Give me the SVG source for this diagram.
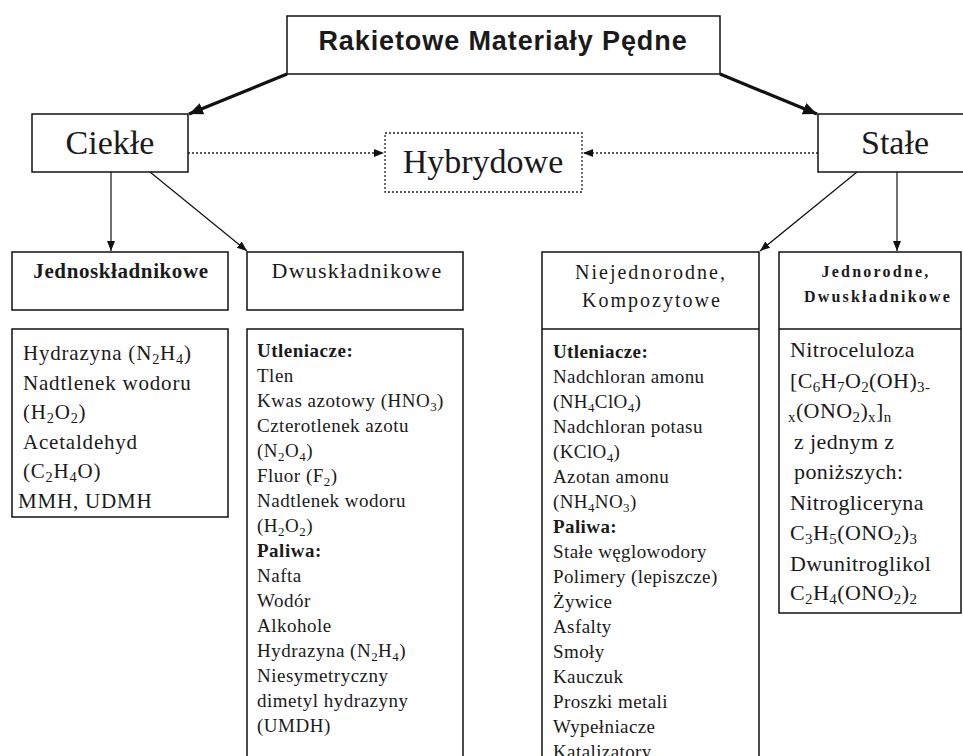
<svg xmlns="http://www.w3.org/2000/svg" width="963" height="756" viewBox="0 0 963 756">
<style>
.box{fill:#fff;stroke:#111;stroke-width:1.5}
.dbox{fill:#fff;stroke:#222;stroke-width:1.3;stroke-dasharray:2 2}
.ln{stroke:#111;stroke-width:1.2;fill:none}
.thick{stroke:#111;stroke-width:3.2;fill:none}
.dot{stroke:#222;stroke-width:1.3;stroke-dasharray:2 2;fill:none}
text{fill:#1a1a1a;font-family:"Liberation Serif","Times New Roman",serif}
.title{font-family:"Liberation Sans",Arial,sans-serif;font-weight:bold;font-size:27px;letter-spacing:0.9px}
.big{font-size:34px}
.hb{font-weight:bold;font-size:21px;letter-spacing:0.6px}
.hr{font-size:22px;letter-spacing:1.2px}
.hn{font-size:20px;letter-spacing:2px}
.hj{font-weight:bold;font-size:16px;letter-spacing:2.2px}
.l21{font-size:21px;letter-spacing:0.8px}
.l19{font-size:19px;letter-spacing:0.5px}
.n19{font-size:19px;letter-spacing:0.4px}
.l22{font-size:22px;letter-spacing:0.4px}
.b{font-weight:bold}
.s{font-size:68%;baseline-shift:-3.5px}
</style>
<defs>
<marker id="ah" markerUnits="userSpaceOnUse" markerWidth="12" markerHeight="10" refX="10" refY="4" orient="auto">
<path d="M0,0 L10,4 L0,8 Z" fill="#111"/>
</marker>
<marker id="ahb" markerUnits="userSpaceOnUse" markerWidth="16" markerHeight="14" refX="14" refY="6" orient="auto">
<path d="M0,0 L14,6 L0,12 Z" fill="#111"/>
</marker>
</defs>

<g id="connectors">
<line class="thick" x1="287" y1="74" x2="189" y2="114" marker-end="url(#ahb)"/>
<line class="thick" x1="720" y1="74" x2="817" y2="114" marker-end="url(#ahb)"/>
<line class="dot" x1="188" y1="153" x2="384" y2="153" marker-end="url(#ah)"/>
<line class="dot" x1="818" y1="153" x2="583" y2="153" marker-end="url(#ah)"/>
<line class="ln" x1="111" y1="172" x2="111" y2="251" marker-end="url(#ah)"/>
<line class="ln" x1="150" y1="172" x2="247" y2="251" marker-end="url(#ah)"/>
<line class="ln" x1="857" y1="172" x2="760" y2="251" marker-end="url(#ah)"/>
<line class="ln" x1="897" y1="172" x2="897" y2="251" marker-end="url(#ah)"/>
</g>

<g id="title">
<rect class="box" x="287" y="16" width="433" height="58"/>
<text class="title" x="503" y="50" text-anchor="middle">Rakietowe Materiały Pędne</text>
</g>

<g id="ciekle">
<rect class="box" x="32" y="114" width="156" height="58"/>
<text class="big" x="110" y="154" text-anchor="middle">Ciekłe</text>
</g>

<g id="hybrydowe">
<rect class="dbox" x="385" y="133" width="197" height="59"/>
<text class="big" x="483" y="173" text-anchor="middle">Hybrydowe</text>
</g>

<g id="stale">
<rect class="box" x="818" y="114" width="150" height="58"/>
<text class="big" x="895" y="154" text-anchor="middle">Stałe</text>
</g>

<g id="jednoskladnikowe">
<rect class="box" x="12" y="252" width="216" height="58"/>
<text class="hb" x="121" y="278" text-anchor="middle">Jednoskładnikowe</text>
</g>

<g id="jednoskladnikowe-lista">
<rect class="box" x="12" y="329" width="216" height="188"/>
<text class="l21">
<tspan x="23" y="360">Hydrazyna (N<tspan class="s">2</tspan>H<tspan class="s">4</tspan>)</tspan>
<tspan x="23" y="389.5">Nadtlenek wodoru</tspan>
<tspan x="23" y="419">(H<tspan class="s">2</tspan>O<tspan class="s">2</tspan>)</tspan>
<tspan x="23" y="448.5">Acetaldehyd</tspan>
<tspan x="23" y="478">(C<tspan class="s">2</tspan>H<tspan class="s">4</tspan>O)</tspan>
<tspan x="18" y="507.5">MMH, UDMH</tspan>
</text>
</g>

<g id="dwuskladnikowe">
<rect class="box" x="247" y="252" width="216" height="58"/>
<text class="hr" x="357" y="278" text-anchor="middle">Dwuskładnikowe</text>
</g>

<g id="dwuskladnikowe-lista">
<rect class="box" x="247" y="329" width="216" height="440"/>
<text class="l19">
<tspan x="257" y="357" class="b">Utleniacze:</tspan>
<tspan x="257" y="382">Tlen</tspan>
<tspan x="257" y="407">Kwas azotowy (HNO<tspan class="s">3</tspan>)</tspan>
<tspan x="257" y="432">Czterotlenek azotu</tspan>
<tspan x="257" y="457">(N<tspan class="s">2</tspan>O<tspan class="s">4</tspan>)</tspan>
<tspan x="257" y="482">Fluor (F<tspan class="s">2</tspan>)</tspan>
<tspan x="257" y="507">Nadtlenek wodoru</tspan>
<tspan x="257" y="532">(H<tspan class="s">2</tspan>O<tspan class="s">2</tspan>)</tspan>
<tspan x="257" y="557" class="b">Paliwa:</tspan>
<tspan x="257" y="582">Nafta</tspan>
<tspan x="257" y="607">Wodór</tspan>
<tspan x="257" y="632">Alkohole</tspan>
<tspan x="257" y="657">Hydrazyna (N<tspan class="s">2</tspan>H<tspan class="s">4</tspan>)</tspan>
<tspan x="257" y="682">Niesymetryczny</tspan>
<tspan x="257" y="707">dimetyl hydrazyny</tspan>
<tspan x="257" y="732">(UMDH)</tspan>
</text>
</g>

<g id="niejednorodne">
<rect class="box" x="542" y="252" width="217" height="520"/>
<line class="ln" x1="542" y1="329" x2="759" y2="329" style="stroke-width:1.5"/>
<text class="hn" x="651" y="279" text-anchor="middle">Niejednorodne,</text>
<text class="hn" x="652" y="307" text-anchor="middle">Kompozytowe</text>
<text class="n19">
<tspan x="553" y="358" class="b">Utleniacze:</tspan>
<tspan x="553" y="383">Nadchloran amonu</tspan>
<tspan x="553" y="408">(NH<tspan class="s">4</tspan>ClO<tspan class="s">4</tspan>)</tspan>
<tspan x="553" y="433">Nadchloran potasu</tspan>
<tspan x="553" y="458">(KClO<tspan class="s">4</tspan>)</tspan>
<tspan x="553" y="483">Azotan amonu</tspan>
<tspan x="553" y="508">(NH<tspan class="s">4</tspan>NO<tspan class="s">3</tspan>)</tspan>
<tspan x="553" y="533" class="b">Paliwa:</tspan>
<tspan x="553" y="558">Stałe węglowodory</tspan>
<tspan x="553" y="583">Polimery (lepiszcze)</tspan>
<tspan x="553" y="608">Żywice</tspan>
<tspan x="553" y="633">Asfalty</tspan>
<tspan x="553" y="658">Smoły</tspan>
<tspan x="553" y="683">Kauczuk</tspan>
<tspan x="553" y="708">Proszki metali</tspan>
<tspan x="553" y="733">Wypełniacze</tspan>
<tspan x="553" y="758">Katalizatory</tspan>
</text>
</g>

<g id="jednorodne">
<rect class="box" x="779" y="252" width="182" height="361"/>
<line class="ln" x1="779" y1="329" x2="961" y2="329" style="stroke-width:1.5"/>
<text class="hj" x="876" y="277" text-anchor="middle">Jednorodne,</text>
<text class="hj" x="878" y="302" text-anchor="middle">Dwuskładnikowe</text>
<text class="l22">
<tspan x="790" y="357">Nitroceluloza</tspan>
<tspan x="790" y="387.5">[C<tspan class="s">6</tspan>H<tspan class="s">7</tspan>O<tspan class="s">2</tspan>(OH)<tspan class="s">3-</tspan></tspan>
<tspan x="788" y="418"><tspan class="s">x</tspan>(ONO<tspan class="s">2</tspan>)<tspan class="s">x</tspan>]<tspan class="s">n</tspan></tspan>
<tspan x="794" y="448.5">z jednym z</tspan>
<tspan x="794" y="479">poniższych:</tspan>
<tspan x="790" y="509.5">Nitrogliceryna</tspan>
<tspan x="790" y="540">C<tspan class="s">3</tspan>H<tspan class="s">5</tspan>(ONO<tspan class="s">2</tspan>)<tspan class="s">3</tspan></tspan>
<tspan x="790" y="570.5">Dwunitroglikol</tspan>
<tspan x="790" y="600">C<tspan class="s">2</tspan>H<tspan class="s">4</tspan>(ONO<tspan class="s">2</tspan>)<tspan class="s">2</tspan></tspan>
</text>
</g>
</svg>
